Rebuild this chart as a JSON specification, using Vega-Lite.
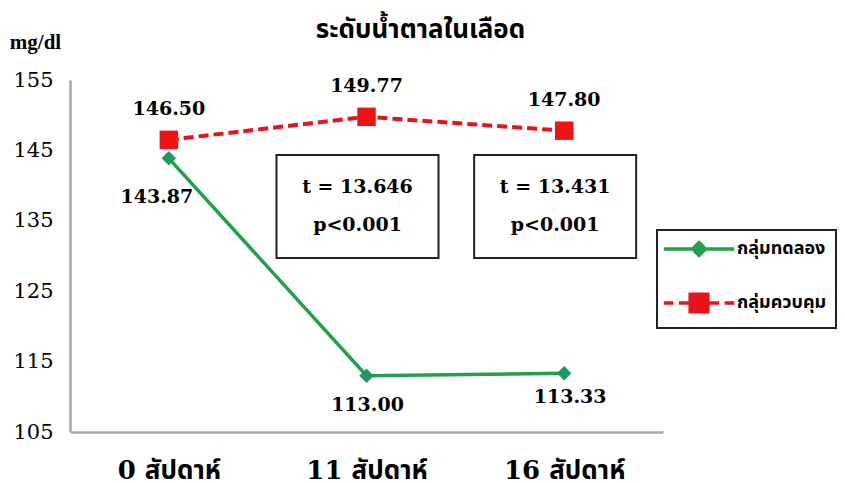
{
  "$schema": "https://vega.github.io/schema/vega-lite/v6.json",
  "autosize": "none",
  "width": 593,
  "height": 352,
  "padding": {"left": 70, "top": 80, "right": 182, "bottom": 51},
  "background": "white",
  "title": {
    "text": "ระดับน้ำตาลในเลือด",
    "anchor": "middle",
    "frame": "group",
    "dx": 54,
    "offset": 0,
    "dy": 33,
    "baseline": "alphabetic",
    "font": "Noto Sans Thai, Noto Sans, sans-serif",
    "fontSize": 26,
    "fontWeight": "bold",
    "color": "black"
  },
  "config": {
    "view": {"stroke": null},
    "font": "DejaVu Serif"
  },
  "datasets": {
    "series": [
      {"week": "0 สัปดาห์", "group": "กลุ่มทดลอง", "value": 143.87},
      {"week": "11 สัปดาห์", "group": "กลุ่มทดลอง", "value": 113.00},
      {"week": "16 สัปดาห์", "group": "กลุ่มทดลอง", "value": 113.33},
      {"week": "0 สัปดาห์", "group": "กลุ่มควบคุม", "value": 146.50},
      {"week": "11 สัปดาห์", "group": "กลุ่มควบคุม", "value": 149.77},
      {"week": "16 สัปดาห์", "group": "กลุ่มควบคุม", "value": 147.80}
    ],
    "tests": [
      {"week": "11 สัปดาห์", "t": "t = 13.646", "p": "p<0.001"},
      {"week": "16 สัปดาห์", "t": "t = 13.431", "p": "p<0.001"}
    ]
  },
  "encoding": {
    "x": {
      "field": "week",
      "type": "nominal",
      "sort": null,
      "scale": {"type": "point", "padding": 0.5, "domain": ["0 สัปดาห์", "11 สัปดาห์", "16 สัปดาห์"]},
      "axis": {
        "title": null,
        "ticks": false,
        "grid": false,
        "labelAngle": 0,
        "domainColor": "#a8a8a8",
        "domainWidth": 2.5,
        "labelFont": "DejaVu Serif, Noto Sans Thai, sans-serif",
        "labelFontSize": 26,
        "labelFontWeight": "bold",
        "labelColor": "black",
        "labelBaseline": "alphabetic",
        "labelPadding": 46
      }
    }
  },
  "layer": [
    {
      "data": {"name": "series"},
      "transform": [{"filter": "datum.group === 'กลุ่มทดลอง'"}],
      "mark": {"type": "line", "strokeWidth": 3.5, "color": "#22a04c"},
      "encoding": {
        "y": {
          "field": "value",
          "type": "quantitative",
          "scale": {"domain": [105, 155], "nice": false, "zero": false},
          "axis": {
            "values": [105, 115, 125, 135, 145, 155],
            "ticks": false,
            "grid": false,
            "domainColor": "#a8a8a8",
            "domainWidth": 2.5,
            "labelFont": "DejaVu Serif",
            "labelFontSize": 21,
            "labelColor": "black",
            "labelPadding": 17,
            "title": "mg/dl",
            "titleAngle": 0,
            "titleX": -35,
            "titleY": -38,
            "titleAlign": "center",
            "titleBaseline": "middle",
            "titleFont": "Liberation Serif",
            "titleFontSize": 21,
            "titleFontWeight": "bold",
            "titleColor": "black"
          }
        }
      }
    },
    {
      "data": {"name": "series"},
      "transform": [{"filter": "datum.group === 'กลุ่มควบคุม'"}],
      "mark": {"type": "line", "strokeWidth": 4, "color": "#e8141c", "strokeDash": [10, 5]},
      "encoding": {"y": {"field": "value", "type": "quantitative"}}
    },
    {
      "data": {"name": "series"},
      "transform": [{"filter": "datum.group === 'กลุ่มทดลอง'"}],
      "mark": {"type": "point", "shape": "diamond", "filled": true, "size": 210, "color": "#1b9a63", "opacity": 1},
      "encoding": {"y": {"field": "value", "type": "quantitative"}}
    },
    {
      "data": {"name": "series"},
      "transform": [{"filter": "datum.group === 'กลุ่มควบคุม'"}],
      "mark": {"type": "point", "shape": "square", "filled": true, "size": 340, "color": "#ee1414", "opacity": 1},
      "encoding": {"y": {"field": "value", "type": "quantitative"}}
    },
    {
      "data": {"name": "series"},
      "transform": [{"filter": "datum.group === 'กลุ่มควบคุม'"}],
      "mark": {"type": "text", "dy": -31, "font": "DejaVu Serif", "fontWeight": "bold", "fontSize": 19, "color": "black"},
      "encoding": {"y": {"field": "value", "type": "quantitative"}, "text": {"field": "value", "format": ".2f"}}
    },
    {
      "data": {"name": "series"},
      "transform": [{"filter": "datum.group === 'กลุ่มทดลอง' && datum.week === '0 สัปดาห์'"}],
      "mark": {"type": "text", "dx": -12, "dy": 39, "font": "DejaVu Serif", "fontWeight": "bold", "fontSize": 19, "color": "black"},
      "encoding": {"y": {"field": "value", "type": "quantitative"}, "text": {"field": "value", "format": ".2f"}}
    },
    {
      "data": {"name": "series"},
      "transform": [{"filter": "datum.group === 'กลุ่มทดลอง' && datum.week === '11 สัปดาห์'"}],
      "mark": {"type": "text", "dx": 1, "dy": 29, "font": "DejaVu Serif", "fontWeight": "bold", "fontSize": 19, "color": "black"},
      "encoding": {"y": {"field": "value", "type": "quantitative"}, "text": {"field": "value", "format": ".2f"}}
    },
    {
      "data": {"name": "series"},
      "transform": [{"filter": "datum.group === 'กลุ่มทดลอง' && datum.week === '16 สัปดาห์'"}],
      "mark": {"type": "text", "dx": 6, "dy": 24, "font": "DejaVu Serif", "fontWeight": "bold", "fontSize": 19, "color": "black"},
      "encoding": {"y": {"field": "value", "type": "quantitative"}, "text": {"field": "value", "format": ".2f"}}
    },
    {
      "data": {"name": "tests"},
      "mark": {"type": "rect", "width": 162, "xOffset": -9, "fill": "white", "stroke": "#222", "strokeWidth": 2},
      "encoding": {
        "y": {"datum": 144.35, "type": "quantitative"},
        "y2": {"datum": 129.72}
      }
    },
    {
      "data": {"name": "tests"},
      "mark": {"type": "text", "xOffset": -9, "font": "DejaVu Serif", "fontWeight": "bold", "fontSize": 19, "color": "black", "baseline": "middle"},
      "encoding": {
        "y": {"datum": 139.8, "type": "quantitative"},
        "text": {"field": "t"}
      }
    },
    {
      "data": {"name": "tests"},
      "mark": {"type": "text", "xOffset": -9, "font": "DejaVu Serif", "fontWeight": "bold", "fontSize": 19, "color": "black", "baseline": "middle"},
      "encoding": {
        "y": {"datum": 134.4, "type": "quantitative"},
        "text": {"field": "p"}
      }
    },
    {
      "data": {"name": "series"},
      "mark": {"type": "point", "filled": true, "opacity": 0},
      "encoding": {
        "y": {"field": "value", "type": "quantitative"},
        "color": {
          "field": "group",
          "type": "nominal",
          "scale": {"domain": ["กลุ่มทดลอง", "กลุ่มควบคุม"], "range": ["#22a04c", "#e8141c"]},
          "legend": {
            "orient": "none",
            "legendX": 587,
            "legendY": 150,
            "title": null,
            "strokeColor": "#222",
            "padding": 9,
            "symbolSize": 256,
            "symbolOffset": 23,
            "symbolStrokeWidth": 3.5,
            "symbolOpacity": 1,
            "labelOffset": 28,
            "labelFont": "Noto Sans Thai, Noto Sans, sans-serif",
            "labelFontSize": 18,
            "labelFontWeight": "bold",
            "labelColor": "black",
            "rowPadding": 24,
            "labelLimit": 200,
            "encode": {
              "symbols": {
                "update": {
                  "fill": {"scale": "color", "field": "value"},
                  "stroke": {"scale": "color", "field": "value"},
                  "strokeWidth": {"value": 3.5},
                  "opacity": {"value": 1}
                }
              },
              "legend": {"update": {"strokeWidth": {"value": 2}}}
            }
          }
        },
        "shape": {
          "field": "group",
          "type": "nominal",
          "scale": {
            "domain": ["กลุ่มทดลอง", "กลุ่มควบคุม"],
            "range": [
              "M-4.4,0L-0.8,0M0.8,0L4.4,0M0,-0.8L0.8,0L0,0.8L-0.8,0Z",
              "M-4.4,0L-3.2,0M-2.5,0L-1.1,0M1.1,0L2.5,0M3.2,0L4.4,0M-1.1,-1.1L1.1,-1.1L1.1,1.1L-1.1,1.1Z"
            ]
          },
          "legend": {
            "orient": "none",
            "legendX": 587,
            "legendY": 150,
            "title": null,
            "strokeColor": "#222",
            "padding": 9,
            "symbolSize": 256,
            "symbolOffset": 23,
            "symbolStrokeWidth": 3.5,
            "symbolOpacity": 1,
            "labelOffset": 28,
            "labelFont": "Noto Sans Thai, Noto Sans, sans-serif",
            "labelFontSize": 18,
            "labelFontWeight": "bold",
            "labelColor": "black",
            "rowPadding": 24,
            "labelLimit": 200,
            "encode": {
              "symbols": {
                "update": {
                  "fill": {"scale": "color", "field": "value"},
                  "stroke": {"scale": "color", "field": "value"},
                  "strokeWidth": {"value": 3.5},
                  "opacity": {"value": 1}
                }
              },
              "legend": {"update": {"strokeWidth": {"value": 2}}}
            }
          }
        }
      }
    }
  ]
}
